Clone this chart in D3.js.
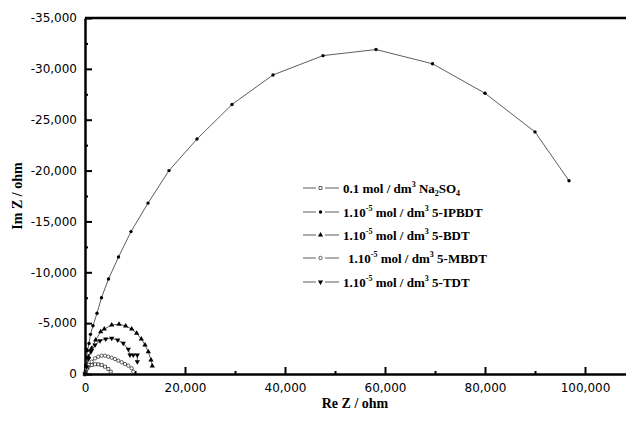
<!DOCTYPE html>
<html>
<head>
<meta charset="utf-8">
<script src="https://cdn.jsdelivr.net/npm/d3@7"></script>
<style>
  body { margin: 0; background: #fff; }
  svg { display: block; }
</style>
</head>
<body>
<svg width="626" height="422"></svg>
<script>
// Nyquist data, [Re Z, Im Z] in ohm
var na2so4 = [[0, 0], [200, -300], [400, -550], [660, -720], [1340, -880], [2000, -950], [2660, -950],
  [3340, -880], [4000, -720], [4660, -490], [5140, -230]];
var ipbdt = [[0, 0], [50, -300], [150, -900], [300, -1600], [500, -2300], [800, -3000], [1100, -3900],
  [1600, -4750], [2400, -5970], [3300, -7500], [4700, -9340], [6700, -11500], [9200, -14000],
  [12600, -16800], [16800, -20000], [22400, -23100], [29400, -26500], [37600, -29400],
  [47600, -31300], [58200, -31900], [69500, -30500], [80000, -27600], [90000, -23800], [96800, -19000]];
var bdt = [[0, 0], [300, -800], [700, -1700], [1300, -2500], [2140, -3340], [3140, -4160], [3860, -4420],
  [5340, -4820], [6800, -4890], [8140, -4720], [9340, -4420], [10340, -4000], [11260, -3440],
  [12000, -2850], [12660, -2190], [13200, -1380], [13460, -790]];
var mbdt = [[0, 0], [300, -500], [700, -900], [1340, -1210], [2000, -1540], [2660, -1700], [3340, -1800],
  [4000, -1800], [4660, -1700], [5340, -1600], [6000, -1470], [6660, -1310], [7340, -1150],
  [8000, -980], [8660, -820], [9340, -560], [9660, -230]];
var tdt = [[0, 0], [300, -700], [700, -1500], [1200, -2200], [2000, -2850], [3000, -3270], [4140, -3440],
  [5340, -3510], [6540, -3340], [7660, -3020], [8660, -2430], [9000, -1870], [9660, -1870],
  [10460, -1870], [10460, -1210]];

var xTicks = [0, 20000, 40000, 60000, 80000, 100000];
var yTicks = [0, -5000, -10000, -15000, -20000, -25000, -30000, -35000];

var series = [
  {name: "na", data: na2so4, symbol: d3.symbolSquare, fill: "#fff"},
  {name: "ip", data: ipbdt, symbol: d3.symbolCircle, fill: "#000"},
  {name: "bdt", data: bdt, symbol: d3.symbolTriangle, fill: "#000"},
  {name: "mbdt", data: mbdt, symbol: d3.symbolCircle, fill: "#fff"},
  {name: "tdt", data: tdt, symbol: d3.symbolTriangle, fill: "#000", flip: true}
];

var svg = d3.select("svg");

var x = d3.scaleLinear().domain([0, 110000]).range([85, 635]);
var y = d3.scaleLinear().domain([0, -35000]).range([374, 18]);

var fmt = function(d) { return d3.format(",")(d).replace("\u2212", "-"); };

// minor ticks
svg.append("g")
  .attr("transform", "translate(0,374)")
  .call(d3.axisBottom(x).tickValues(d3.range(10000, 110000, 20000)).tickSize(-3).tickFormat(""))
  .call(function(g) { g.select(".domain").remove(); g.selectAll("line").attr("stroke-width", 2); });
svg.append("g")
  .attr("transform", "translate(85,0)")
  .call(d3.axisLeft(y).tickValues(d3.range(-2500, -35000, -5000)).tickSize(-3).tickFormat(""))
  .call(function(g) { g.select(".domain").remove(); g.selectAll("line").attr("stroke-width", 2); });

var xAxis = svg.append("g")
  .attr("transform", "translate(0,374)")
  .call(d3.axisBottom(x).tickValues(xTicks).tickSizeInner(-7).tickSizeOuter(0).tickPadding(8).tickFormat(fmt));
var yAxis = svg.append("g")
  .attr("transform", "translate(85,0)")
  .call(d3.axisLeft(y).tickValues(yTicks).tickSizeInner(-7).tickSizeOuter(0).tickPadding(8).tickFormat(fmt));

[xAxis, yAxis].forEach(function(g) {
  g.select(".domain").attr("stroke-width", 2.5);
  g.selectAll(".tick line").attr("stroke-width", 2);
  g.selectAll("text").style("font-family", "DejaVu Sans").style("font-size", "12px").attr("fill", "#000");
});
xAxis.selectAll("text").attr("dy", "0.85em");

// top frame
svg.append("line")
  .attr("x1", x(0)).attr("x2", 626)
  .attr("y1", y(-35000)).attr("y2", y(-35000))
  .attr("stroke", "#000").attr("stroke-width", 2.5);

var line = d3.line().x(function(d) { return x(d[0]); }).y(function(d) { return y(d[1]); });

series.forEach(function(s) {
  svg.append("path")
    .datum(s.data)
    .attr("d", line)
    .attr("fill", "none")
    .attr("stroke", "#333")
    .attr("stroke-width", 0.8);
  svg.append("g").selectAll("path")
    .data(s.data)
    .enter().append("path")
    .attr("d", d3.symbol().type(s.symbol).size(s.symbol === d3.symbolTriangle ? 12 : 9))
    .attr("transform", function(d) {
      return "translate(" + x(d[0]) + "," + y(d[1]) + ")" + (s.flip ? " rotate(180)" : "");
    })
    .attr("fill", s.fill)
    .attr("stroke", "#000")
    .attr("stroke-width", s.fill === "#fff" ? 0.6 : 0);
});

// legend
var legend = svg.append("g").style("font-family", "Liberation Serif").style("font-weight", "bold").style("font-size", "13px");
var rowsY = [188, 212, 235, 258, 282];
series.forEach(function(s, i) {
  var ry = rowsY[i];
  legend.append("line").attr("x1", 303).attr("x2", 339).attr("y1", ry).attr("y2", ry)
    .attr("stroke", "#333").attr("stroke-width", 0.8);
  legend.append("rect").attr("x", 316).attr("y", ry - 3).attr("width", 9).attr("height", 6).attr("fill", "#fff");
  legend.append("path")
    .attr("d", d3.symbol().type(s.symbol).size(s.symbol === d3.symbolTriangle ? 12 : 9))
    .attr("transform", "translate(320.5," + ry + ")" + (s.flip ? " rotate(180)" : ""))
    .attr("fill", s.fill).attr("stroke", "#000").attr("stroke-width", s.fill === "#fff" ? 0.6 : 0);
});

var t0 = legend.append("text").attr("x", 343).attr("y", rowsY[0] + 5);
t0.append("tspan").text("0.1 mol / dm");
t0.append("tspan").attr("dy", -6).style("font-size", "8px").text("3");
t0.append("tspan").attr("dy", 6).text(" Na");
t0.append("tspan").attr("dy", 3).style("font-size", "8px").text("2");
t0.append("tspan").attr("dy", -3).text("SO");
t0.append("tspan").attr("dy", 3).style("font-size", "8px").text("4");

var names = ["5-IPBDT", "5-BDT", "5-MBDT", "5-TDT"];
names.forEach(function(n, i) {
  var t = legend.append("text").attr("x", i === 2 ? 348 : 343).attr("y", rowsY[i + 1] + 5);
  t.append("tspan").text("1.10");
  t.append("tspan").attr("dy", -6).style("font-size", "8px").text("-5");
  t.append("tspan").attr("dy", 6).text(" mol / dm");
  t.append("tspan").attr("dy", -6).style("font-size", "8px").text("3");
  t.append("tspan").attr("dy", 6).text(" " + n);
});

// axis titles
svg.append("text")
  .attr("x", 355).attr("y", 408)
  .attr("text-anchor", "middle")
  .style("font-family", "Liberation Serif").style("font-weight", "bold").style("font-size", "14px")
  .text("Re Z / ohm");
svg.append("text")
  .attr("transform", "translate(22,196) rotate(-90)")
  .attr("text-anchor", "middle")
  .style("font-family", "Liberation Serif").style("font-weight", "bold").style("font-size", "14px")
  .text("Im Z / ohm");
</script>
</body>
</html>
